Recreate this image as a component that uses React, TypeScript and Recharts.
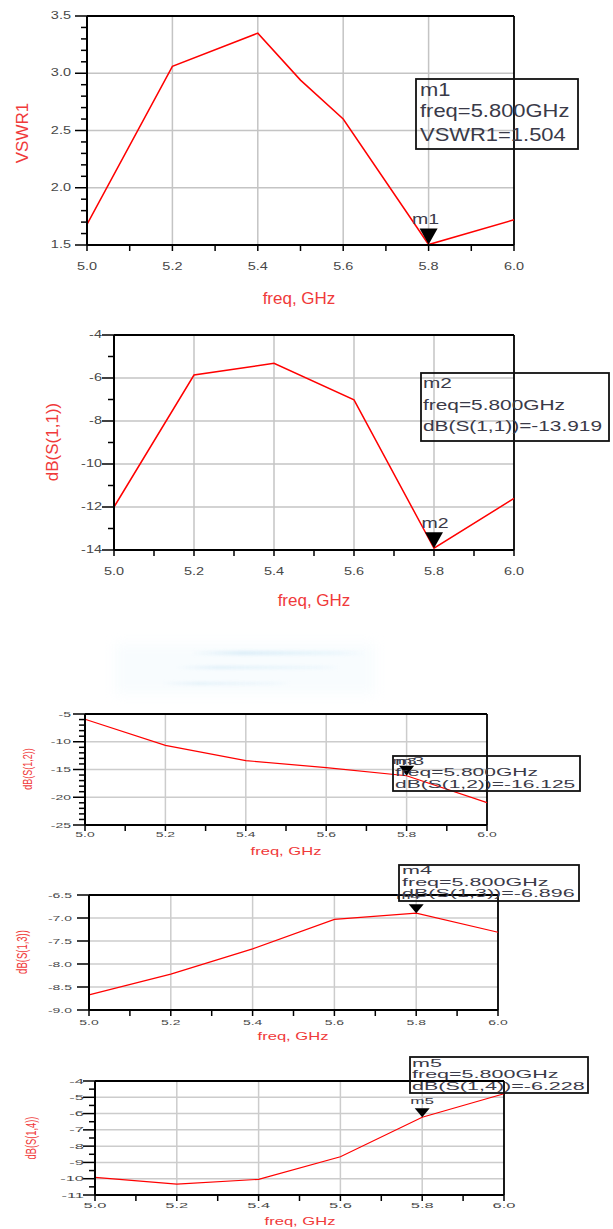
import React from 'react';
import { LineChart, Line, XAxis, YAxis, ReferenceLine, ReferenceDot } from 'recharts';

// values
const FREQ = [5.0, 5.2, 5.4, 5.6, 5.8, 6.0];
const FREQ_VSWR = [5.0, 5.2, 5.4, 5.5, 5.6, 5.8, 6.0];
const VSWR1 = [1.68, 3.06, 3.35, 2.94, 2.6, 1.504, 1.72];
const S11 = [-12.0, -5.86, -5.32, -7.02, -13.919, -11.6];
const S12 = [-5.95, -10.64, -13.4, -14.67, -16.125, -20.98];
const S13 = [-8.67, -8.22, -7.67, -7.03, -6.896, -7.31];
const S14 = [-9.92, -10.33, -10.04, -8.65, -6.228, -4.78];

const X_MAJOR = [5.0, 5.2, 5.4, 5.6, 5.8, 6.0];
const Y1_MAJOR = [1.5, 2.0, 2.5, 3.0, 3.5];
const Y2_MAJOR = [-14, -12, -10, -8, -6, -4];
const Y3_MAJOR = [-25, -20, -15, -10, -5];
const Y4_MAJOR = [-9.0, -8.5, -8.0, -7.5, -7.0, -6.5];
const Y5_MAJOR = [-11, -10, -9, -8, -7, -6, -5, -4];

const Y_TITLES = ['VSWR1', 'dB(S(1,1))', 'dB(S(1,2))', 'dB(S(1,3))', 'dB(S(1,4))'];
const X_TITLE = 'freq, GHz';
const MARKER_NAMES = ['m1', 'm2', 'm3', 'm4', 'm5'];
const MARKER_FREQ = 5.8;

const FONT = '"Liberation Sans", Arial, sans-serif';
const RED = '#ff0000';
const TITLE_RED = '#f03a3a';

const steps = (min: number, max: number, step: number) => {
  const out: number[] = [];
  const n = Math.round((max - min) / step);
  for (let i = 0; i <= n; i++) out.push(Math.round((min + i * step) * 1000) / 1000);
  return out;
};
const isMajor = (v: number, majors: number[]) => majors.some((m) => Math.abs(m - v) < 1e-6);

type Cfg = {
  left: number; right: number; top: number; bottom: number;
  freq: number[]; values: number[];
  yMajor: number[]; yMinor: number | null; yDigits: number;
  tickFont: number; tickSx: number; xLabelDy: number; yLabelGap: number;
  lineW: number; gridW: number; grid: string;
  title: string; titleFont: number; titleX: number; titleY: number; titleSy: number;
  xTitleX: number; xTitleY: number; xTitleFont: number; xTitleSx: number;
  mk: number; triW: number; triH: number; mkFont: number; mkSx: number; mkDx: number; mkGap: number;
  box: { x: number; y: number; w: number; h: number; tx: number; base: number[]; font: number; sx: number };
};

const CHARTS: Cfg[] = [
  {
    left: 87, right: 514, top: 16, bottom: 245, freq: FREQ_VSWR, values: VSWR1,
    yMajor: Y1_MAJOR, yMinor: 0.1, yDigits: 1, tickFont: 10, tickSx: 1.45, xLabelDy: 22, yLabelGap: 16,
    lineW: 1.5, gridW: 1.5, grid: '#c4c4c4',
    title: Y_TITLES[0], titleFont: 17, titleX: 22, titleY: 133, titleSy: 1,
    xTitleX: 299, xTitleY: 298, xTitleFont: 17, xTitleSx: 1,
    mk: 0, triW: 18, triH: 16, mkFont: 15, mkSx: 1.3, mkDx: -3, mkGap: 5,
    box: { x: 416, y: 79, w: 162, h: 70, tx: 420, base: [96, 117, 141], font: 18, sx: 1.22 },
  },
  {
    left: 114, right: 514, top: 335, bottom: 550, freq: FREQ, values: S11,
    yMajor: Y2_MAJOR, yMinor: 1, yDigits: 0, tickFont: 10, tickSx: 1.45, xLabelDy: 22, yLabelGap: 12,
    lineW: 1.5, gridW: 1.5, grid: '#c4c4c4',
    title: Y_TITLES[1], titleFont: 17, titleX: 52, titleY: 442, titleSy: 1,
    xTitleX: 314, xTitleY: 600, xTitleFont: 17, xTitleSx: 1,
    mk: 1, triW: 18, triH: 16, mkFont: 15, mkSx: 1.3, mkDx: 1, mkGap: 4,
    box: { x: 421, y: 373, w: 188, h: 68, tx: 423, base: [388, 410, 431], font: 15, sx: 1.39 },
  },
  {
    left: 85, right: 487, top: 714, bottom: 825, freq: FREQ, values: S12,
    yMajor: Y3_MAJOR, yMinor: 1, yDigits: 0, tickFont: 7, tickSx: 2, xLabelDy: 9, yLabelGap: 14,
    lineW: 1.2, gridW: 1.5, grid: '#cccccc',
    title: Y_TITLES[2], titleFont: 9, titleX: 27, titleY: 769, titleSy: 1.5,
    xTitleX: 286, xTitleY: 852, xTitleFont: 10, xTitleSx: 1.66,
    mk: 2, triW: 15, triH: 10, mkFont: 9, mkSx: 1.9, mkDx: -2, mkGap: 2,
    box: { x: 393, y: 756, w: 187, h: 35, tx: 395, base: [765, 776, 788], font: 10, sx: 2.1 },
  },
  {
    left: 89, right: 498, top: 895, bottom: 1010, freq: FREQ, values: S13,
    yMajor: Y4_MAJOR, yMinor: null, yDigits: 1, tickFont: 7, tickSx: 2, xLabelDy: 12, yLabelGap: 17,
    lineW: 1.2, gridW: 1.5, grid: '#cccccc',
    title: Y_TITLES[3], titleFont: 9.5, titleX: 22, titleY: 952, titleSy: 1.5,
    xTitleX: 293, xTitleY: 1037, xTitleFont: 10, xTitleSx: 1.66,
    mk: 3, triW: 15, triH: 9, mkFont: 9, mkSx: 1.9, mkDx: -8, mkGap: 5,
    box: { x: 399, y: 865, w: 180, h: 36, tx: 402, base: [874, 886, 897], font: 10.5, sx: 2.05 },
  },
  {
    left: 95, right: 504, top: 1081, bottom: 1195, freq: FREQ, values: S14,
    yMajor: Y5_MAJOR, yMinor: 0.5, yDigits: 0, tickFont: 7.5, tickSx: 2.2, xLabelDy: 10, yLabelGap: 11,
    lineW: 1.2, gridW: 1.5, grid: '#cccccc',
    title: Y_TITLES[4], titleFont: 9.3, titleX: 31, titleY: 1138, titleSy: 1.5,
    xTitleX: 300, xTitleY: 1222, xTitleFont: 10, xTitleSx: 1.66,
    mk: 4, triW: 15, triH: 9, mkFont: 9, mkSx: 1.9, mkDx: 0, mkGap: 4,
    box: { x: 410, y: 1057, w: 178, h: 36, tx: 412, base: [1067, 1078, 1090], font: 10.5, sx: 2.05 },
  },
];

const MARKER_VALUE_TEXT = (c: Cfg) => {
  const v = c.values[c.freq.indexOf(MARKER_FREQ)];
  return `${c.title}=${v.toFixed(3)}`;
};

function XTick(props: any) {
  const { x, y, payload, cfg } = props;
  const major = isMajor(payload.value, X_MAJOR);
  return (
    <g>
      <line x1={x} x2={x} y1={y} y2={y + 6} stroke="#000" strokeWidth={1.5} />
      {major && (
        <text
          transform={`translate(${x},${y + cfg.xLabelDy}) scale(${cfg.tickSx},1)`}
          textAnchor="middle"
          dominantBaseline="central"
          fontSize={cfg.tickFont}
          fontFamily={FONT}
          fill="#484848"
        >
          {Number(payload.value).toFixed(1)}
        </text>
      )}
    </g>
  );
}

function YTick(props: any) {
  const { x, y, payload, cfg } = props;
  const major = isMajor(payload.value, cfg.yMajor);
  const len = major ? 12 : 6;
  return (
    <g>
      <line x1={x - len} x2={x} y1={y} y2={y} stroke="#000" strokeWidth={1.5} />
      {major && (
        <text
          transform={`translate(${x - cfg.yLabelGap},${y}) scale(${cfg.tickSx},1)`}
          textAnchor="end"
          dominantBaseline="central"
          fontSize={cfg.tickFont}
          fontFamily={FONT}
          fill="#484848"
        >
          {Number(payload.value).toFixed(cfg.yDigits)}
        </text>
      )}
    </g>
  );
}

function Panel({ cfg }: { cfg: Cfg }) {
  const data = cfg.freq.map((f, i) => ({ f, v: cfg.values[i] }));
  const yMin = cfg.yMajor[0];
  const yMax = cfg.yMajor[cfg.yMajor.length - 1];
  const yTicks = cfg.yMinor ? steps(yMin, yMax, cfg.yMinor) : cfg.yMajor;
  const xTicks = steps(5.0, 6.0, 0.1);
  const height = cfg.bottom - cfg.top + 50;
  const mv = cfg.values[cfg.freq.indexOf(MARKER_FREQ)];

  const markerShape = (p: any) => {
    const { cx, cy } = p;
    return (
      <g>
        <path
          d={`M${cx - cfg.triW / 2},${cy - cfg.triH} L${cx + cfg.triW / 2},${cy - cfg.triH} L${cx},${cy} Z`}
          fill="#000"
        />
        <text
          transform={`translate(${cx + cfg.mkDx},${cy - cfg.triH - cfg.mkGap}) scale(${cfg.mkSx},1)`}
          textAnchor="middle"
          fontSize={cfg.mkFont}
          fontFamily={FONT}
          fill="#3a3a48"
        >
          {MARKER_NAMES[cfg.mk]}
        </text>
      </g>
    );
  };

  return (
    <div style={{ position: 'absolute', left: 0, top: cfg.top - 10 }}>
      <LineChart
        width={613}
        height={height}
        data={data}
        margin={{ top: 10, right: 613 - cfg.right, bottom: 0, left: cfg.left - 60 }}
      >
        {X_MAJOR.slice(1, -1).map((v) => (
          <ReferenceLine key={`gx${v}`} x={v} stroke={cfg.grid} strokeWidth={cfg.gridW} />
        ))}
        {cfg.yMajor.slice(1, -1).map((v) => (
          <ReferenceLine key={`gy${v}`} y={v} stroke={cfg.grid} strokeWidth={cfg.gridW} />
        ))}
        <ReferenceLine y={yMax} stroke="#000" strokeWidth={1.8} />
        <ReferenceLine x={6.0} stroke="#000" strokeWidth={1.8} />
        <XAxis
          type="number"
          dataKey="f"
          domain={[5, 6]}
          ticks={xTicks}
          interval={0}
          height={40}
          tickSize={0}
          tickMargin={0}
          tickLine={false}
          axisLine={{ stroke: '#000', strokeWidth: 2 }}
          tick={(p: any) => <XTick {...p} cfg={cfg} />}
        />
        <YAxis
          type="number"
          domain={[yMin, yMax]}
          ticks={yTicks}
          interval={0}
          width={60}
          tickSize={0}
          tickMargin={0}
          tickLine={false}
          axisLine={{ stroke: '#000', strokeWidth: 2 }}
          tick={(p: any) => <YTick {...p} cfg={cfg} />}
        />
        <Line
          type="linear"
          dataKey="v"
          stroke={RED}
          strokeWidth={cfg.lineW}
          dot={false}
          isAnimationActive={false}
        />
        <ReferenceDot x={MARKER_FREQ} y={mv} r={1} shape={markerShape} ifOverflow="visible" />
      </LineChart>
    </div>
  );
}

function Overlay() {
  return (
    <svg
      width={613}
      height={1229}
      style={{ position: 'absolute', left: 0, top: 0, pointerEvents: 'none' }}
      fontFamily={FONT}
    >
      {CHARTS.map((c, i) => (
        <g key={i}>
          <text
            transform={`translate(${c.titleX},${c.titleY}) scale(${c.titleSy},1) rotate(-90)`}
            textAnchor="middle"
            dominantBaseline="central"
            fontSize={c.titleFont}
            fill={TITLE_RED}
          >
            {c.title}
          </text>
          <text
            transform={`translate(${c.xTitleX},${c.xTitleY}) scale(${c.xTitleSx},1)`}
            textAnchor="middle"
            dominantBaseline="central"
            fontSize={c.xTitleFont}
            fill={TITLE_RED}
          >
            {X_TITLE}
          </text>
          <rect
            x={c.box.x}
            y={c.box.y}
            width={c.box.w}
            height={c.box.h}
            fill="none"
            stroke="#111"
            strokeWidth={1.8}
          />
          {[MARKER_NAMES[c.mk], `freq=${MARKER_FREQ.toFixed(3)}GHz`, MARKER_VALUE_TEXT(c)].map((t, j) => (
            <text
              key={j}
              transform={`translate(${c.box.tx},${c.box.base[j]}) scale(${c.box.sx},1)`}
              fontSize={c.box.font}
              fill="#3a3a48"
            >
              {t}
            </text>
          ))}
        </g>
      ))}
    </svg>
  );
}

export default function App() {
  return (
    <div style={{ position: 'absolute', left: 0, top: 0, width: 613, height: 1229, background: '#fff', overflow: 'hidden' }}>
      {/* faint blurred smear between the second and third plots */}
      <div style={{ position: 'absolute', left: 115, top: 644, width: 260, height: 50, background: 'rgba(236,246,252,0.35)', filter: 'blur(6px)' }} />
      <div style={{ position: 'absolute', left: 190, top: 651, width: 178, height: 4, background: 'linear-gradient(90deg, rgba(200,228,245,0), rgba(200,228,245,0.6) 30%, rgba(215,238,250,0.4) 80%, rgba(235,247,252,0))', filter: 'blur(1.5px)' }} />
      <div style={{ position: 'absolute', left: 176, top: 666, width: 165, height: 3, background: 'linear-gradient(90deg, rgba(200,228,245,0), rgba(200,228,245,0.5) 25%, rgba(218,240,250,0.35) 85%, rgba(235,247,252,0))', filter: 'blur(1.5px)' }} />
      <div style={{ position: 'absolute', left: 160, top: 682, width: 130, height: 3, background: 'linear-gradient(90deg, rgba(200,228,245,0), rgba(205,230,245,0.45) 30%, rgba(220,240,250,0.3) 85%, rgba(235,247,252,0))', filter: 'blur(1.5px)' }} />
      {CHARTS.map((c, i) => (
        <Panel key={i} cfg={c} />
      ))}
      <Overlay />
    </div>
  );
}
